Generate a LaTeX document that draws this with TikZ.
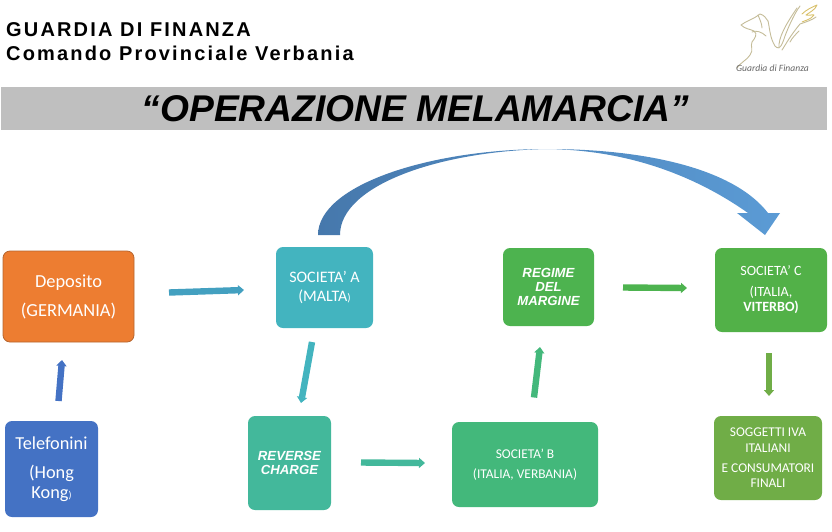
\documentclass[tikz,border=0pt]{standalone}
\usepackage{fontspec}
\setmainfont{Carlito}
\newfontfamily\arial{Liberation Sans}
\newfontfamily\arialsp[LetterSpace=10.8]{Liberation Sans}
\usetikzlibrary{arrows.meta,shadings}
\definecolor{cDep}{HTML}{ED7D31}
\definecolor{cDepB}{HTML}{B5652F}
\definecolor{cTel}{HTML}{4472C4}
\definecolor{cA}{HTML}{43B4BF}
\definecolor{cRev}{HTML}{43B89B}
\definecolor{cB}{HTML}{43B87B}
\definecolor{cReg}{HTML}{4DB34F}
\definecolor{cC}{HTML}{52B148}
\definecolor{cSog}{HTML}{70AD47}
\definecolor{cLogo}{HTML}{C4BC98}
\definecolor{cGold}{HTML}{D8C06A}
\tikzset{
  box/.style={rounded corners=7pt,inner sep=0pt,align=center,text=white,anchor=center},
  flow/.style={line width=6.4pt,-{Triangle[width=10pt,length=6pt,sep=0pt]}},
  logo/.style={draw=cLogo,line width=.9pt,fill=none,line cap=round,line join=round},
  emph/.style={font=\arial\bfseries\itshape\fontsize{13.2}{14}\selectfont}
}
\begin{document}
\begin{tikzpicture}[x=1pt,y=-1pt]
\useasboundingbox (0,0) rectangle (832,531);
% header
\node[anchor=base west,inner sep=0pt,font=\arialsp\bfseries\fontsize{20}{20}\selectfont] (h1) at (6,36) {GUARDIA DI FINANZA};
\node[anchor=base west,inner sep=0pt,font=\arialsp\bfseries\fontsize{20}{20}\selectfont] (h2) at (6,60) {Comando Provinciale Verbania};
% logo
\draw[logo] (737,68) .. controls (741,62) and (747,60) .. (750,55) .. controls (754,50) and (750,46) .. (752,42) .. controls (755,38) and (758,34) .. (754,31) .. controls (750,29) and (745,29) .. (741,25) .. controls (746,21) and (754,19) .. (760,14) .. controls (764,15) and (766,18) .. (768,21);
\draw[logo] (768,21) .. controls (770,30) and (770,38) .. (775,46) .. controls (780,52) and (783,42) .. (785,36) .. controls (788,28) and (794,14) .. (800,6);
\draw[logo] (779,48) .. controls (778,38) and (786,24) .. (797,8);
\draw[logo] (782,50) .. controls (786,44) and (790,36) .. (800,24) .. controls (806,22) and (812,20) .. (816,17);
\draw[logo,draw=cGold] (802,14) .. controls (806,10) and (812,7) .. (817,5) .. controls (815,10) and (810,12) .. (806,15) .. controls (810,16) and (813,14) .. (814,15) .. controls (810,20) and (806,20) .. (802,22);
\draw[logo] (790,42) .. controls (792,38) and (796,34) .. (799,31);
\draw[logo] (752,32) .. controls (756,30) and (762,32) .. (766,36);
\draw[logo] (758,15) .. controls (760,20) and (762,24) .. (762,28);
\node[inner sep=0pt,text=black!60,font=\itshape\fontsize{9.6}{10}\selectfont] (logotxt) at (772.5,68.5) {Guardia di Finanza};
% banner
\fill[fill=black!25] (1,87) rectangle (827,130);
\node[inner sep=0pt,font=\arial\bfseries\itshape\fontsize{37.2}{37.2}\selectfont] (title) at (415.5,109) {“OPERAZIONE MELAMARCIA”};
% boxes
\node[box,fill=cDep,draw=cDepB,line width=.8pt,minimum width=131pt,minimum height=91pt,font=\fontsize{18.4}{30}\selectfont] (dep) at (68.5,296.5) {\raisebox{-1pt}{Deposito}\\(GERMANIA)};
\node[box,fill=cTel,minimum width=93pt,minimum height=96pt,font=\fontsize{18.3}{20}\selectfont] (tel) at (51.5,469) {Telefonini\\[9pt](Hong\\Kong{\fontsize{10}{10}\selectfont)}};
\node[box,fill=cA,minimum width=97pt,minimum height=81pt,font=\fontsize{16}{19}\selectfont] (a) at (324.5,287.5) {SOCIETA' A\\(MALTA{\fontsize{11}{11}\selectfont)}};
\node[box,fill=cRev,minimum width=83pt,minimum height=94pt,emph] (rev) at (289.5,463) {REVERSE\\CHARGE};
\node[box,fill=cB,minimum width=146pt,minimum height=85pt,font=\fontsize{13.4}{20}\selectfont] (b) at (525,464.5) {SOCIETA' B\\(ITALIA, VERBANIA)};
\node[box,fill=cReg,minimum width=91pt,minimum height=78pt,emph] (reg) at (548.5,287) {REGIME\\DEL\\MARGINE};
\node[box,fill=cC,minimum width=112pt,minimum height=84pt,font=\fontsize{14.1}{15}\selectfont] (c) at (771,290) {SOCIETA' C\\[6pt](ITALIA,\\\textbf{VITERBO)}};
\node[box,fill=cSog,minimum width=108pt,minimum height=84pt,font=\fontsize{13.4}{15.5}\selectfont] (sog) at (768,458) {SOGGETTI IVA\\ITALIANI\\[4.5pt]E CONSUMATORI\\FINALI};
% connector ends
\coordinate (e1a) at (58.5,401); \coordinate (e1b) at (62,360);
\coordinate (e2a) at (169,292.5); \coordinate (e2b) at (244,290);
\coordinate (e3a) at (312,342); \coordinate (e3b) at (301,403);
\coordinate (e4a) at (361,462.5); \coordinate (e4b) at (425,463);
\coordinate (e5a) at (534,397.5); \coordinate (e5b) at (540,347);
\coordinate (e6a) at (623,287.5); \coordinate (e6b) at (687,288);
\coordinate (e7a) at (769,353); \coordinate (e7b) at (769,396);
\draw[flow,cTel] (e1a) -- (e1b);
\draw[flow,color=cA!70!cTel] (e2a) -- (e2b);
\draw[flow,cA] (e3a) -- (e3b);
\draw[flow,cRev] (e4a) -- (e4b);
\draw[flow,cB] (e5a) -- (e5b);
\draw[flow,cReg] (e6a) -- (e6b);
\draw[flow,cSog] (e7a) -- (e7b);
% big curved arrow
\path[left color={rgb,255:red,70;green,120;blue,172},right color={rgb,255:red,91;green,155;blue,213}]
  (318,235) .. controls (318,185) and (430,149) .. (547,149)
  .. controls (650,149) and (735,170) .. (768,213)
  -- (780,213) -- (765,235) -- (737,213) -- (748,213)
  .. controls (697,177) and (630,150) .. (547,149)
  .. controls (440,151) and (340,185) .. (340,235) -- cycle;
\end{tikzpicture}
\end{document}
